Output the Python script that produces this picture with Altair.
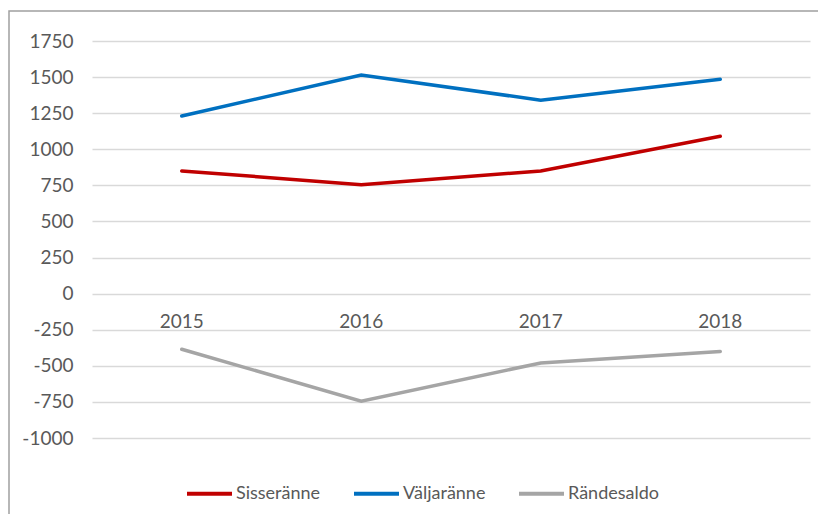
import altair as alt
import pandas as pd

years = ["2015", "2016", "2017", "2018"]
series_names = ["Sisseränne", "Väljaränne", "Rändesaldo"]
sisse = [850, 755, 850, 1090]
valja = [1230, 1515, 1340, 1485]
randes = [-385, -745, -480, -400]
colors = ["#C00000", "#0070C0", "#A5A5A5"]
y_ticks = list(range(-1000, 1751, 250))

rows = []
for name, vals in zip(series_names, [sisse, valja, randes]):
    for yr, v in zip(years, vals):
        rows.append({"year": yr, "serie": name, "value": v})
df = pd.DataFrame(rows)
label_df = pd.DataFrame({"year": years, "zero": [0] * len(years)})

FONT = "Lato"
TXT = "#595959"

xscale = alt.Scale(type="point", padding=0.5, domain=years)
yscale = alt.Scale(domain=[-1000, 1750], nice=False, zero=False)
yaxis = alt.Axis(
    values=y_ticks, grid=True, domain=False, ticks=False,
    labelPadding=19, labelFontSize=19, labelColor=TXT, labelFont=FONT,
    labelOverlap=False, labelExpr="datum.value + ''",
    gridColor="#D9D9D9", gridWidth=1.5, title=None,
)

frame = alt.Chart(pd.DataFrame({"a": [0]})).mark_rect(
    filled=False, stroke="#A0A0A0", strokeWidth=1.5
).encode(
    x=alt.value(-83), y=alt.value(-30), x2=alt.value(1000), y2=alt.value(800)
)

lines = alt.Chart(df).mark_line(strokeWidth=3.5, strokeCap="round").encode(
    x=alt.X("year:N", scale=xscale, axis=None),
    y=alt.Y("value:Q", scale=yscale, axis=yaxis),
    color=alt.Color(
        "serie:N",
        scale=alt.Scale(domain=series_names, range=colors),
        sort=series_names,
        legend=alt.Legend(
            orient="none", legendX=93, legendY=428, direction="horizontal",
            symbolType="stroke", symbolSize=2025, symbolStrokeWidth=4,
            labelFontSize=18, labelColor=TXT, labelFont=FONT, title=None,
            columnPadding=25, labelOffset=2,
        ),
    ),
    order=alt.Order("year:N"),
)

labels = alt.Chart(label_df).mark_text(
    baseline="middle", align="center", dy=28, fontSize=19, font=FONT, color=TXT
).encode(
    x=alt.X("year:N", scale=xscale, axis=None),
    y=alt.Y("zero:Q", scale=yscale, axis=yaxis),
    text="year:N",
)

chart = alt.layer(frame, lines, labels).properties(
    width=718, height=397,
    padding={"left": 84, "top": 33, "right": 8, "bottom": 76},
    autosize=alt.AutoSizeParams(type="none"),
    background="white",
).configure_view(stroke=None)

chart.save("out.html", embed_options={"renderer": "svg", "actions": False})
